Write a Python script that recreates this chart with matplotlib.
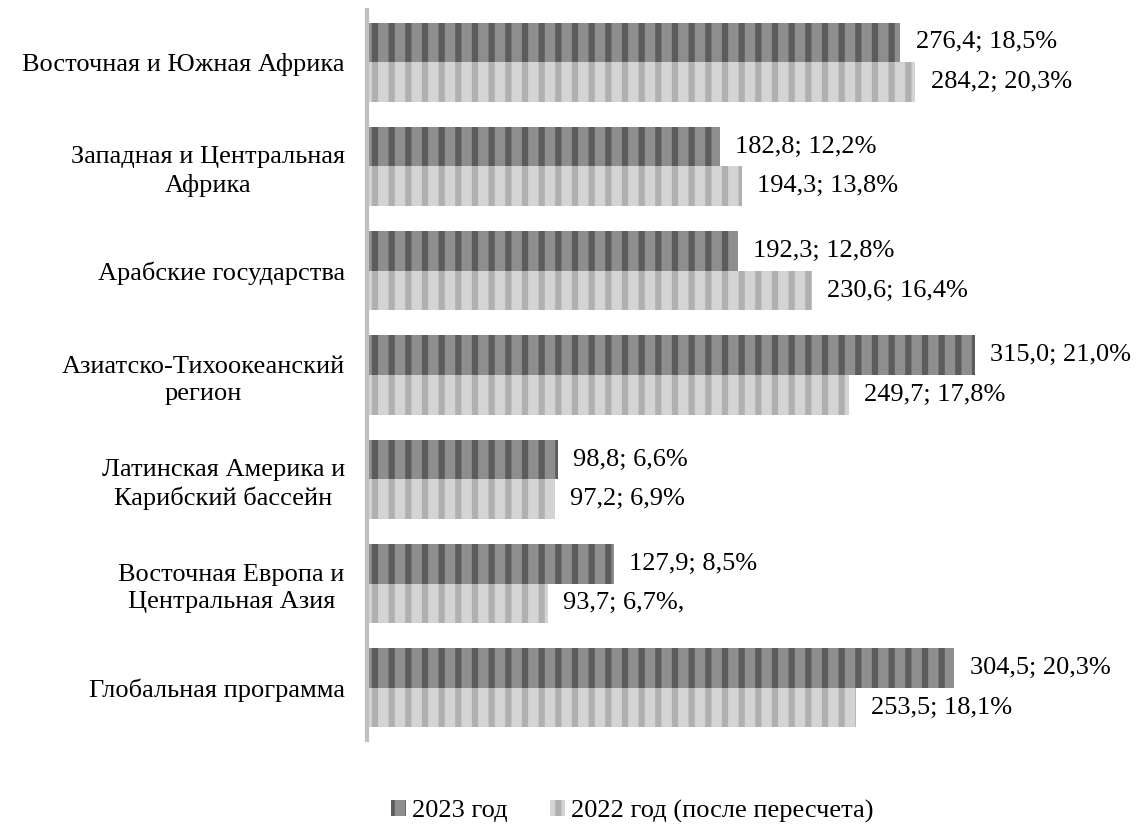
import matplotlib
matplotlib.use("Agg")
import matplotlib.pyplot as plt
import numpy as np

categories = [
    "Восточная и Южная Африка",
    "Западная и Центральная\nАфрика",
    "Арабские государства",
    "Азиатско-Тихоокеанский\nрегион",
    "Латинская Америка и\nКарибский бассейн",
    "Восточная Европа и\nЦентральная Азия",
    "Глобальная программа",
]
values_2023 = [276.4, 182.8, 192.3, 315.0, 98.8, 127.9, 304.5]
values_2022 = [284.2, 194.3, 230.6, 249.7, 97.2, 93.7, 253.5]
labels_2023 = ["276,4; 18,5%", "182,8; 12,2%", "192,3; 12,8%", "315,0; 21,0%",
               "98,8; 6,6%", "127,9; 8,5%", "304,5; 20,3%"]
labels_2022 = ["284,2; 20,3%", "194,3; 13,8%", "230,6; 16,4%", "249,7; 17,8%",
               "97,2; 6,9%", "93,7; 6,7%,", "253,5; 18,1%"]

plt.rcParams["font.family"] = ["Liberation Serif", "DejaVu Serif"]
plt.rcParams["hatch.linewidth"] = 4.5

fig = plt.figure(figsize=(11.44, 8.24), dpi=100)
ax = fig.add_axes([367 / 1144, 84 / 824, 762 / 1144, 730 / 824])

y = np.arange(len(categories))
h = 0.38
ax.barh(y - h / 2, values_2023, height=h, color="#8e8e8e", edgecolor="#5c5c5c",
        hatch="|", linewidth=0, label="2023 год")
ax.barh(y + h / 2, values_2022, height=h, color="#d4d4d4", edgecolor="#b0b0b0",
        hatch="|", linewidth=0, label="2022 год (после пересчета)")

fs = 19
for i in range(len(categories)):
    ax.text(values_2023[i] + 8, y[i] - h / 2, labels_2023[i], va="center", ha="left", fontsize=fs)
    ax.text(values_2022[i] + 8, y[i] + h / 2, labels_2022[i], va="center", ha="left", fontsize=fs)

ax.set_xlim(0, 395)
ax.set_ylim(len(categories) - 0.5, -0.5)
ax.set_yticks(y)
ax.set_yticklabels(categories, fontsize=fs, multialignment="center", linespacing=1.3)
ax.tick_params(axis="y", length=0, pad=16)
ax.set_xticks([])
for s in ["top", "right", "bottom"]:
    ax.spines[s].set_visible(False)
ax.spines["left"].set_color("#c0c0c0")
ax.spines["left"].set_linewidth(3)

fig.legend(loc="center", bbox_to_anchor=(0.553, 1 - 811 / 824), ncol=2, frameon=False,
           fontsize=fs, handlelength=0.55, handleheight=0.55, handletextpad=0.25,
           columnspacing=1.6, borderpad=0.1)

fig.savefig("out.png", dpi=100, facecolor="white")
